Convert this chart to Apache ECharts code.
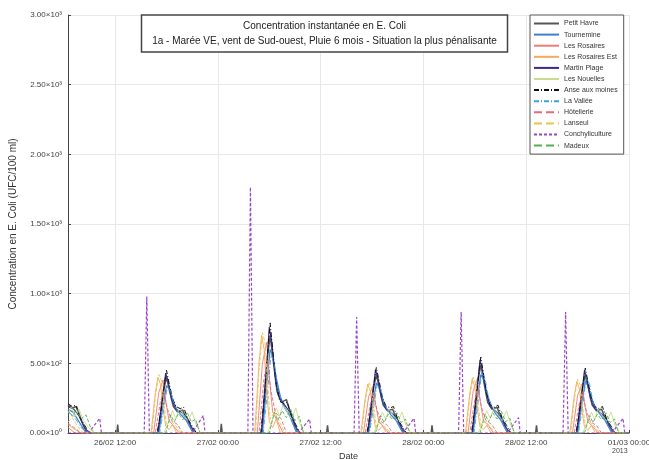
<!DOCTYPE html>
<html>
<head>
<meta charset="utf-8">
<script src="https://cdn.jsdelivr.net/npm/echarts@6/dist/echarts.min.js"></script>
<style>
  html, body { margin: 0; padding: 0; background: #fff; }
  #main { width: 649px; height: 460px; }
</style>
</head>
<body>
<div id="main"></div>
<script>
// heures depuis le 26/02/2013 00:00
var xTicks = [12, 24, 36, 48, 60, 72];
var xTickLabels = ['26/02 12:00', '27/02 00:00', '27/02 12:00', '28/02 00:00', '28/02 12:00', '01/03 00:00'];
var yTicks = [0, 500, 1000, 1500, 2000, 2500, 3000];
var yTickLabels = ['0.00×10⁰', '5.00×10²', '1.00×10³', '1.50×10³', '2.00×10³', '2.50×10³', '3.00×10³'];

var petitHavre = [
  [6.5,200],[7.0,180],[7.5,190],[8.0,100],[8.7,0],
  [12.2,0],[12.3,60],[12.4,0],[17.0,0],[17.6,290],[18.0,400],[18.4,290],[18.8,190],[19.3,150],[19.9,165],[20.2,120],[20.7,70],[21.2,0],
  [24.3,0],[24.4,65],[24.5,0],[29.1,0],[29.7,500],[30.1,700],[30.5,500],[30.9,300],[31.4,220],[32.0,240],[32.3,180],[32.8,100],[33.3,0],
  [36.7,0],[36.8,55],[36.9,0],[41.5,0],[42.1,300],[42.5,420],[42.9,310],[43.3,200],[43.8,160],[44.4,170],[44.7,125],[45.2,70],[45.7,0],
  [48.9,0],[49.0,55],[49.1,0],[53.7,0],[54.3,350],[54.7,490],[55.1,350],[55.5,220],[56.0,170],[56.6,185],[56.9,135],[57.4,75],[57.9,0],
  [61.1,0],[61.2,55],[61.3,0],[65.9,0],[66.5,300],[66.9,420],[67.3,310],[67.7,200],[68.2,160],[68.8,170],[69.1,125],[69.6,70],[70.1,0],
  [72,0]
];
var tournemine = [
  [6.5,170],[7.1,150],[7.7,90],[8.6,0],
  [17.1,0],[17.6,200],[18.0,340],[18.3,320],[18.7,240],[19.2,170],[19.7,130],[20.3,90],[21.1,0],
  [29.2,0],[29.7,350],[30.1,600],[30.4,550],[30.8,400],[31.3,260],[31.8,180],[32.4,120],[33.2,0],
  [41.6,0],[42.1,210],[42.5,360],[42.8,330],[43.2,250],[43.7,175],[44.2,130],[44.8,90],[45.6,0],
  [53.8,0],[54.3,250],[54.7,420],[55.0,390],[55.4,290],[55.9,195],[56.4,140],[57.0,95],[57.8,0],
  [66.0,0],[66.5,215],[66.9,370],[67.2,340],[67.6,255],[68.1,180],[68.6,135],[69.2,90],[70.0,0],
  [72,0]
];
var lesRosaires = [
  [6.5,40],[7.3,0],
  [16.5,0],[17.1,290],[17.6,380],[17.9,230],[18.3,90],[18.9,45],[19.5,0],
  [28.6,0],[29.2,500],[29.7,650],[30.0,400],[30.4,150],[31.0,80],[31.6,0],
  [41.0,0],[41.6,260],[42.1,340],[42.4,210],[42.8,80],[43.4,40],[44.0,0],
  [53.2,0],[53.8,300],[54.3,390],[54.6,240],[55.0,90],[55.6,50],[56.2,0],
  [65.4,0],[66.0,270],[66.5,350],[66.8,215],[67.2,80],[67.8,45],[68.4,0],
  [72,0]
];
var lesRosairesEst = [
  [6.5,60],[7.2,30],[8.0,0],
  [16.2,0],[16.7,290],[17.0,400],[17.3,350],[17.6,180],[17.9,50],[18.3,25],[18.7,60],[19.2,0],
  [28.3,0],[28.8,500],[29.1,700],[29.4,600],[29.7,300],[30.0,80],[30.4,40],[30.8,100],[31.3,0],
  [40.7,0],[41.2,250],[41.5,350],[41.8,300],[42.1,150],[42.4,40],[42.8,20],[43.2,50],[43.7,0],
  [52.9,0],[53.4,280],[53.7,390],[54.0,330],[54.3,170],[54.6,45],[55.0,25],[55.4,55],[55.9,0],
  [65.1,0],[65.6,265],[65.9,370],[66.2,320],[66.5,160],[66.8,45],[67.2,20],[67.6,55],[68.1,0],
  [72,0]
];
var martinPlage = [
  [6.5,190],[7.2,170],[7.8,120],[8.4,40],[9.0,0],
  [17.0,0],[17.5,230],[17.9,430],[18.2,370],[18.6,240],[19.1,170],[19.7,150],[20.3,120],[20.9,40],[21.5,0],
  [29.1,0],[29.6,400],[30.0,760],[30.3,650],[30.7,400],[31.2,250],[31.8,200],[32.4,150],[33.0,50],[33.6,0],
  [41.5,0],[42.0,240],[42.4,455],[42.7,390],[43.1,250],[43.6,175],[44.2,150],[44.8,115],[45.4,40],[46.0,0],
  [53.7,0],[54.2,280],[54.6,525],[54.9,450],[55.3,290],[55.8,190],[56.4,160],[57.0,120],[57.6,40],[58.2,0],
  [65.9,0],[66.4,240],[66.8,450],[67.1,385],[67.5,245],[68.0,175],[68.6,150],[69.2,115],[69.8,40],[70.4,0],
  [72,0]
];
var lesNouelles = [
  [6.5,140],[6.9,190],[7.3,120],[7.8,170],[8.3,90],[8.9,40],[9.5,0],
  [17.7,0],[18.3,90],[18.7,160],[19.1,100],[19.5,180],[20.0,130],[20.5,90],[21.0,150],[21.5,50],[22.0,0],
  [29.8,0],[30.4,100],[30.8,180],[31.2,120],[31.6,200],[32.1,150],[32.6,100],[33.1,180],[33.6,60],[34.1,0],
  [42.2,0],[42.8,85],[43.2,150],[43.6,100],[44.0,170],[44.5,125],[45.0,85],[45.5,150],[46.0,50],[46.5,0],
  [54.4,0],[55.0,90],[55.4,160],[55.8,105],[56.2,180],[56.7,130],[57.2,90],[57.7,160],[58.2,55],[58.7,0],
  [66.6,0],[67.2,85],[67.6,150],[68.0,100],[68.4,170],[68.9,125],[69.4,85],[69.9,150],[70.4,50],[70.9,0],
  [72,0]
];
var anseAuxMoines = [
  [6.5,210],[7.0,190],[7.4,200],[7.9,110],[8.5,50],[9.0,0],
  [16.9,0],[17.4,170],[17.8,370],[18.0,450],[18.3,360],[18.7,250],[19.1,190],[19.6,175],[20.0,185],[20.5,100],[21.0,50],[21.5,0],
  [29.0,0],[29.5,300],[29.9,650],[30.1,790],[30.4,600],[30.8,350],[31.2,230],[31.7,210],[32.1,220],[32.6,120],[33.1,60],[33.6,0],
  [41.4,0],[41.9,180],[42.3,390],[42.5,470],[42.8,380],[43.2,260],[43.6,195],[44.1,180],[44.5,190],[45.0,100],[45.5,50],[46.0,0],
  [53.6,0],[54.1,210],[54.5,450],[54.7,545],[55.0,430],[55.4,280],[55.8,200],[56.3,185],[56.7,200],[57.2,105],[57.7,55],[58.2,0],
  [65.8,0],[66.3,180],[66.7,385],[66.9,466],[67.2,370],[67.6,255],[68.0,190],[68.5,175],[68.9,190],[69.4,100],[69.9,50],[70.4,0],
  [72,0]
];
var laVallee = [
  [6.5,150],[7.2,120],[8.0,40],[8.8,0],
  [17.2,0],[17.7,180],[18.1,330],[18.5,300],[18.9,200],[19.5,140],[20.1,120],[20.7,50],[21.3,0],
  [29.3,0],[29.8,300],[30.2,560],[30.6,500],[31.0,320],[31.6,200],[32.2,160],[32.8,60],[33.4,0],
  [41.7,0],[42.2,190],[42.6,350],[43.0,320],[43.4,210],[44.0,145],[44.6,120],[45.2,50],[45.8,0],
  [53.9,0],[54.4,230],[54.8,430],[55.2,390],[55.6,250],[56.2,165],[56.8,130],[57.4,50],[58.0,0],
  [66.1,0],[66.6,200],[67.0,400],[67.4,350],[67.8,220],[68.4,150],[69.0,120],[69.6,50],[70.2,0],
  [72,0]
];
var hotellerie = [
  [6.5,70],[7.4,30],[8.0,0],
  [16.7,0],[17.3,230],[17.7,300],[18.1,175],[18.6,90],[19.3,60],[19.9,0],
  [28.8,0],[29.4,400],[29.8,520],[30.2,300],[30.7,150],[31.4,100],[32.0,0],
  [41.2,0],[41.8,210],[42.2,270],[42.6,160],[43.1,80],[43.8,55],[44.4,0],
  [53.4,0],[54.0,240],[54.4,310],[54.8,180],[55.3,90],[56.0,60],[56.6,0],
  [65.6,0],[66.2,215],[66.6,280],[67.0,165],[67.5,80],[68.2,55],[68.8,0],
  [72,0]
];
var lanseul = [
  [6.5,80],[7.0,110],[7.6,50],[8.3,0],
  [16.3,0],[16.7,260],[17.1,420],[17.4,380],[17.7,200],[18.0,60],[18.5,90],[19.1,50],[19.7,0],
  [28.4,0],[28.8,450],[29.2,720],[29.5,650],[29.8,350],[30.1,100],[30.6,150],[31.2,80],[31.8,0],
  [40.8,0],[41.2,230],[41.6,365],[41.9,330],[42.2,180],[42.5,50],[43.0,75],[43.6,40],[44.2,0],
  [53.0,0],[53.4,250],[53.8,400],[54.1,360],[54.4,195],[54.7,55],[55.2,85],[55.8,45],[56.4,0],
  [65.2,0],[65.6,240],[66.0,385],[66.3,345],[66.6,185],[66.9,55],[67.4,80],[68.0,45],[68.6,0],
  [72,0]
];
var conchyliculture = [
  [6.5,0],
  [8.9,0],[10.2,105],[10.4,0],[15.4,0],[15.7,980],[16.0,0],
  [21.0,0],[22.3,125],[22.5,0],[27.5,0],[27.8,1765],[28.1,0],
  [33.4,0],[34.7,100],[34.9,0],[39.9,0],[40.2,832],[40.5,0],
  [45.6,0],[46.9,105],[47.1,0],[52.1,0],[52.4,868],[52.7,0],
  [57.8,0],[59.1,110],[59.3,0],[64.3,0],[64.6,868],[64.9,0],
  [70.0,0],[71.3,105],[71.5,0],[72,0]
];
var madeux = [
  [6.5,160],[7.0,120],[7.5,175],[8.0,100],[8.6,130],[9.2,30],[9.7,0],
  [17.9,0],[18.5,130],[18.9,80],[19.4,140],[19.9,95],[20.4,150],[20.9,80],[21.4,100],[21.9,0],
  [30.0,0],[30.6,150],[31.0,90],[31.5,160],[32.0,110],[32.5,170],[33.0,90],[33.5,120],[34.0,0],
  [42.4,0],[43.0,125],[43.4,75],[43.9,135],[44.4,95],[44.9,145],[45.4,75],[45.9,100],[46.4,0],
  [54.6,0],[55.2,135],[55.6,80],[56.1,145],[56.6,100],[57.1,155],[57.6,80],[58.1,105],[58.6,0],
  [66.8,0],[67.4,125],[67.8,75],[68.3,135],[68.8,95],[69.3,145],[69.8,75],[70.3,100],[70.8,0],
  [72,0]
];

var dashDot = [5, 2, 1, 2];
var seriesDefs = [
  {name: 'Petit Havre', data: petitHavre, color: '#555555', width: 1.5, type: 'solid'},
  {name: 'Tournemine', data: tournemine, color: '#3f7fd0', width: 1.2, type: 'solid'},
  {name: 'Les Rosaires', data: lesRosaires, color: '#f07c7c', width: 0.9, type: 'solid'},
  {name: 'Les Rosaires Est', data: lesRosairesEst, color: '#f5a95a', width: 0.9, type: 'solid'},
  {name: 'Martin Plage', data: martinPlage, color: '#3b2a86', width: 1.1, type: 'solid'},
  {name: 'Les Nouelles', data: lesNouelles, color: '#c9dc8e', width: 0.9, type: 'solid'},
  {name: 'Anse aux moines', data: anseAuxMoines, color: '#111111', width: 1, type: dashDot},
  {name: 'La Vallée', data: laVallee, color: '#35a6dc', width: 0.9, type: dashDot},
  {name: 'Hôtellerie', data: hotellerie, color: '#e06b7a', width: 0.9, type: 'dashed'},
  {name: 'Lanseul', data: lanseul, color: '#e8c64c', width: 0.9, type: 'dashed'},
  {name: 'Conchyliculture', data: conchyliculture, color: '#9a45c8', width: 1.2, type: [3, 2]},
  {name: 'Madeux', data: madeux, color: '#55b055', width: 0.9, type: 'dashed'}
];

var chart = echarts.init(document.getElementById('main'));

var option = {
  backgroundColor: '#fff',
  animation: false,
  textStyle: {fontFamily: 'Liberation Sans, Arial, sans-serif'},
  title: {
    text: 'Concentration instantanée en E. Coli\n1a - Marée VE, vent de Sud-ouest, Pluie 6 mois - Situation la plus pénalisante',
    left: 'center',
    top: 15,
    padding: [4, 11, 3, 11],
    borderColor: '#444',
    borderWidth: 1.5,
    backgroundColor: '#fff',
    textStyle: {fontSize: 10, fontWeight: 'normal', color: '#222', lineHeight: 15}
  },
  legend: {
    orient: 'vertical',
    left: 530,
    top: 15,
    padding: [5, 6, 5, 3],
    itemGap: 4.1,
    itemWidth: 25,
    itemHeight: 8,
    borderColor: '#555',
    borderWidth: 1,
    backgroundColor: '#fff',
    itemStyle: {opacity: 0},
    textStyle: {fontSize: 7, color: '#333'},
    data: seriesDefs.map(function (s) { return s.name; })
  },
  grid: {left: 68, right: 20, top: 15, bottom: 27, outerBoundsMode: 'none'},
  xAxis: {
    type: 'value',
    min: 6.5,
    max: 72,
    name: 'Date',
    nameLocation: 'middle',
    nameGap: 18,
    nameTextStyle: {fontSize: 9, color: '#333'},
    axisLine: {show: true, lineStyle: {color: '#444'}},
    axisTick: {show: true, inside: true, length: 3, customValues: xTicks, lineStyle: {color: '#444'}},
    axisLabel: {
      customValues: xTicks,
      fontSize: 8,
      color: '#444',
      margin: 6,
      formatter: function (v) { return xTickLabels[xTicks.indexOf(v)] || ''; }
    },
    splitLine: {show: true, lineStyle: {color: '#e8e8e8'}}
  },
  yAxis: {
    type: 'value',
    min: 0,
    max: 3000,
    interval: 500,
    name: 'Concentration en E. Coli (UFC/100 ml)',
    nameLocation: 'middle',
    nameGap: 50,
    nameTextStyle: {fontSize: 10, color: '#333'},
    axisLine: {show: true, lineStyle: {color: '#444'}},
    axisTick: {show: true, inside: true, length: 3, lineStyle: {color: '#444'}},
    axisLabel: {
      fontSize: 8,
      color: '#444',
      margin: 6,
      formatter: function (v) { return yTickLabels[yTicks.indexOf(v)] || ''; }
    },
    splitLine: {show: true, lineStyle: {color: '#e8e8e8'}}
  },
  graphic: [{
    type: 'text',
    left: 612,
    top: 448,
    style: {text: '2013', fontSize: 7, fill: '#444'}
  }],
  series: seriesDefs.map(function (s) {
    return {
      name: s.name,
      type: 'line',
      data: s.data,
      symbol: 'none',
      color: s.color,
      lineStyle: {color: s.color, width: s.width, type: s.type},
      emphasis: {disabled: true}
    };
  })
};

option && chart.setOption(option);
</script>
</body>
</html>
